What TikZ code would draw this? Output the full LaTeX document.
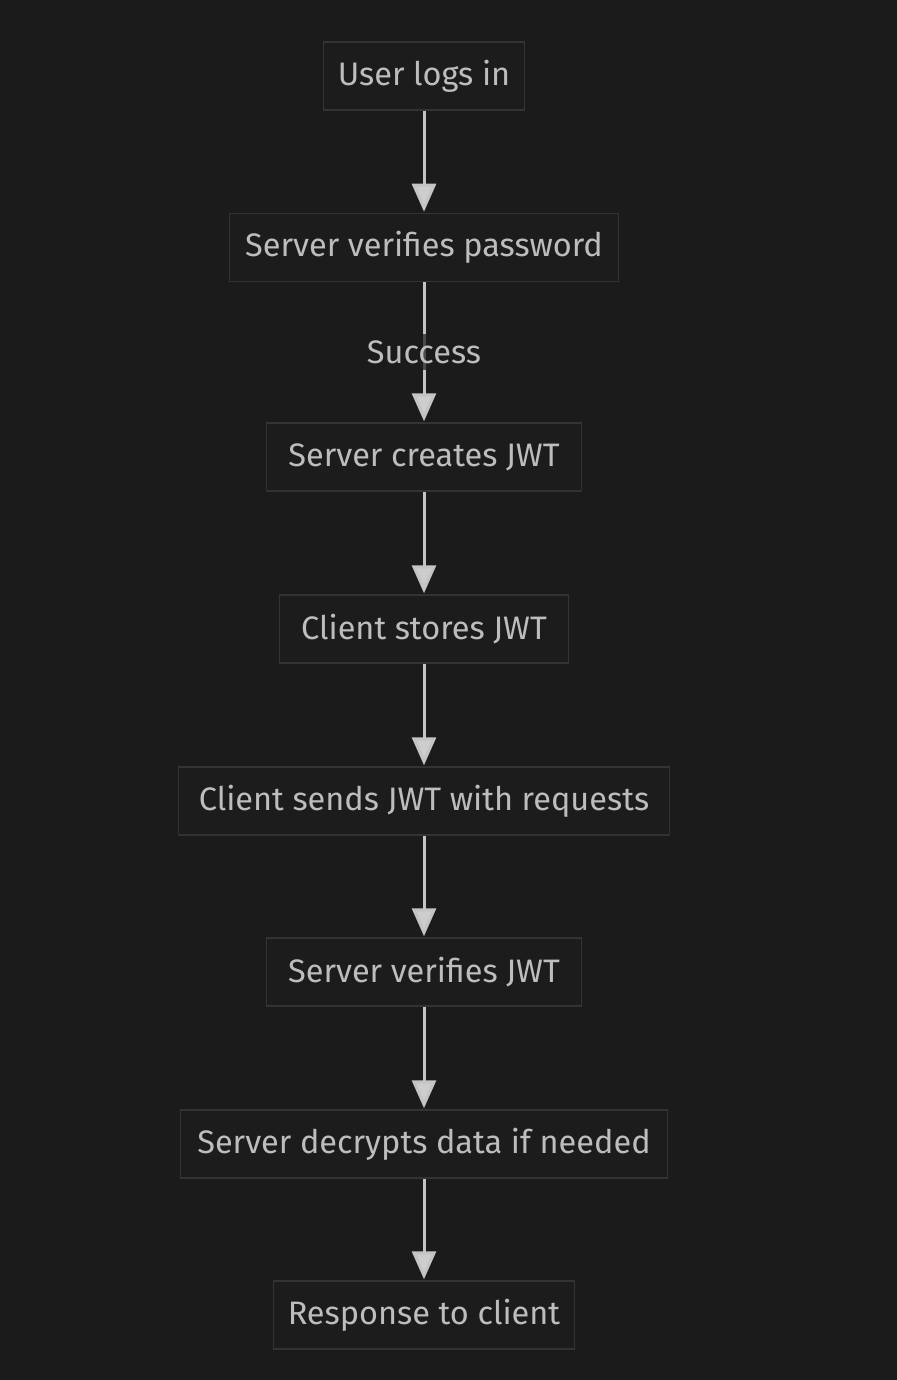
\documentclass[tikz,border=0pt]{standalone}
\usepackage{fontspec}
\setmainfont{Fira Sans}
\usetikzlibrary{arrows.meta}
\definecolor{bg}{HTML}{1B1B1B}
\definecolor{boxfill}{HTML}{1C1C1C}
\definecolor{boxline}{HTML}{333333}
\definecolor{txt}{HTML}{BDBDBD}
\definecolor{arr}{HTML}{C4C4C4}
\definecolor{seg}{HTML}{4A4A4A}
\tikzset{
  stepbox/.style={draw=boxline, line width=1.5pt, fill=boxfill, text=txt,
    minimum height=68pt, inner sep=0pt, font=\fontsize{32.5}{38}\selectfont, anchor=center},
  flow/.style={draw=arr, line width=3pt, -{Triangle[width=24pt,length=28pt,fill=arr!85]}, shorten >=1pt},
  elabel/.style={text=txt, font=\fontsize{32.5}{38}\selectfont, fill=bg, inner sep=1pt,
    minimum height=36pt,
    path picture={\draw[seg, line width=3pt, -] (path picture bounding box.north) -- (path picture bounding box.south);}}
}
\begin{document}
\begin{tikzpicture}[x=1pt,y=-1pt]
\useasboundingbox (0,0) rectangle (896,1380);
\fill[bg] (-10,-10) rectangle (906,1390);
\node[stepbox, minimum width=201pt] (n1) at (424,76) {User logs in};
\node[stepbox, minimum width=389pt] (n2) at (424,247.5) {Server verifies password};
\node[stepbox, minimum width=315pt] (n3) at (424,457) {Server creates JWT};
\node[stepbox, minimum width=289pt] (n4) at (424,629) {Client stores JWT};
\node[stepbox, minimum width=491pt] (n5) at (424,801) {Client sends JWT with requests};
\node[stepbox, minimum width=315pt] (n6) at (424,972) {Server verifies JWT};
\node[stepbox, minimum width=487pt] (n7) at (424,1144) {Server decrypts data if needed};
\node[stepbox, minimum width=301pt] (n8) at (424,1315) {Response to client};
\draw[flow] (n1) -- (n2);
\draw[flow] (n2) -- coordinate (mid) (n3);
\draw[flow] (n3) -- (n4);
\draw[flow] (n4) -- (n5);
\draw[flow] (n5) -- (n6);
\draw[flow] (n6) -- (n7);
\draw[flow] (n7) -- (n8);
\node[elabel] (lab) at (mid) {Success};
\end{tikzpicture}
\end{document}
